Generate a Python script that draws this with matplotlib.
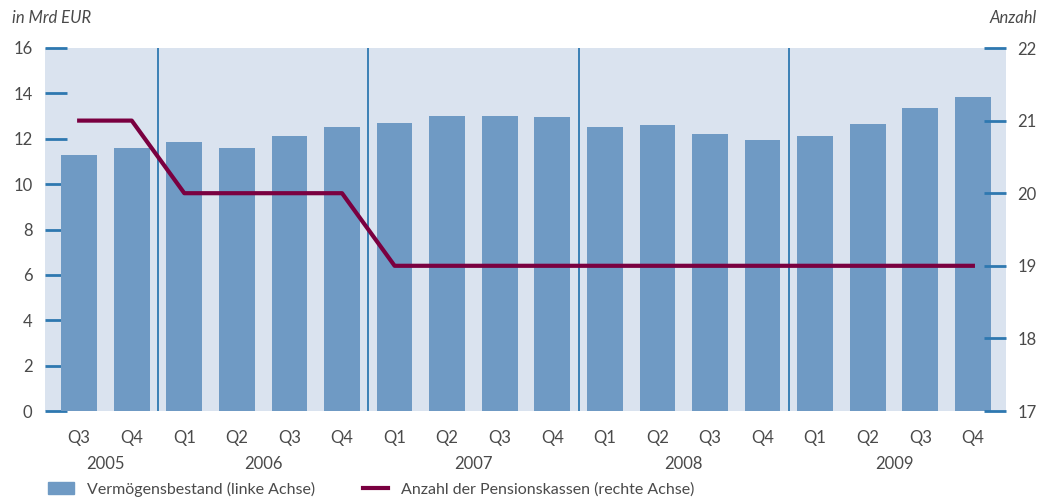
import matplotlib
matplotlib.use("Agg")
from matplotlib import pyplot as plt
from matplotlib.patches import Patch
from matplotlib.lines import Line2D

# data
quarters = ['Q3', 'Q4', 'Q1', 'Q2', 'Q3', 'Q4', 'Q1', 'Q2', 'Q3', 'Q4',
            'Q1', 'Q2', 'Q3', 'Q4', 'Q1', 'Q2', 'Q3', 'Q4']
years = ['2005', '2006', '2007', '2008', '2009']
year_pos = [0.5, 3.5, 7.5, 11.5, 15.5]
vermoegen = [11.3, 11.6, 11.85, 11.6, 12.1, 12.5, 12.7, 13.0, 13.0, 12.95,
             12.5, 12.6, 12.2, 11.95, 12.1, 12.65, 13.35, 13.85]
anzahl = [21, 21, 20, 20, 20, 20, 19, 19, 19, 19,
          19, 19, 19, 19, 19, 19, 19, 19]
year_breaks = [1.5, 5.5, 9.5, 13.5]

bg = '#dae3ef'
bar_col = '#6f9ac4'
line_col = '#7a0040'
blue = '#2e78b0'
txt = '#4a4a4a'
plt.rcParams['font.family'] = ['Lato', 'DejaVu Sans']
fs = 12

fig = plt.figure(figsize=(10.42, 4.97), dpi=100)
ax = fig.add_axes([45/1042, 1-411/497, 961/1042, 363/497])
ax.set_facecolor(bg)
x = list(range(len(vermoegen)))
ax.bar(x, vermoegen, width=0.68, color=bar_col, zorder=2)
for b in year_breaks:
    ax.axvline(b, color=blue, lw=1.3, zorder=3)
ax.set_xlim(-0.65, 17.63)
ax.set_ylim(0, 16)
ax.set_yticks(range(0, 17, 2))
for s in ax.spines.values():
    s.set_visible(False)
ax.tick_params(axis='y', direction='in', length=16, width=2, color=blue,
               labelsize=fs, labelcolor=txt, pad=9)
ax.set_xticks(x)
ax.set_xticklabels(quarters)
ax.tick_params(axis='x', length=0, labelsize=fs, labelcolor=txt, pad=14)
for p, y in zip(year_pos, years):
    ax.text(p, -0.125, y, transform=ax.get_xaxis_transform(), ha='center',
            va='top', fontsize=fs, color=txt)

ax2 = ax.twinx()
ax2.plot(x, anzahl, color=line_col, lw=3, zorder=4)
ax2.set_ylim(17, 22)
ax2.set_yticks(range(17, 23))
for s in ax2.spines.values():
    s.set_visible(False)
ax2.tick_params(axis='y', direction='in', length=16, width=2, color=blue,
                labelsize=fs, labelcolor=txt, pad=8)

fig.text(12/1042, 1-18/497, 'in Mrd EUR', style='italic', fontsize=fs,
         color=txt, va='center', ha='left')
fig.text(1037/1042, 1-18/497, 'Anzahl', style='italic', fontsize=fs,
         color=txt, va='center', ha='right')

handles = [Patch(color=bar_col), Line2D([], [], color=line_col, lw=3)]
labels = ['Vermögensbestand (linke Achse)', 'Anzahl der Pensionskassen (rechte Achse)']
fig.legend(handles, labels, loc='center left', bbox_to_anchor=(42/1042, 1-489/497),
           ncol=2, frameon=False, fontsize=11.5, handlelength=1.6, handleheight=0.7,
           handletextpad=0.8, columnspacing=3.0, labelcolor=txt, borderaxespad=0)

plt.savefig('out.png', dpi=100)
